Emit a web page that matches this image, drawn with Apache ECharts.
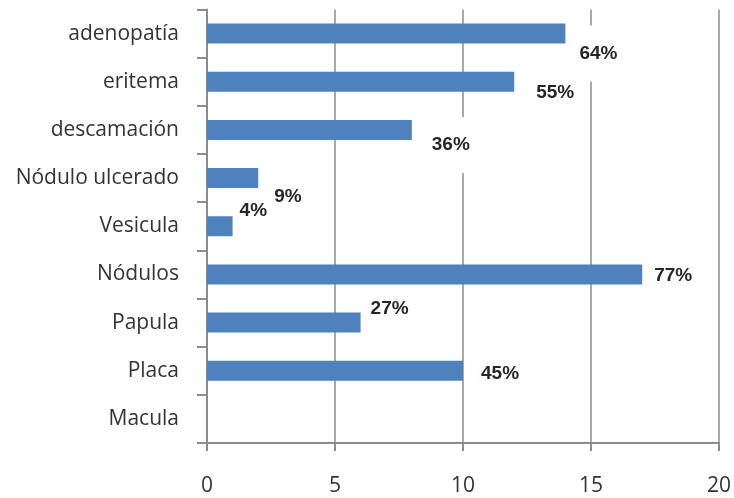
<!DOCTYPE html>
<html>
<head>
<meta charset="utf-8">
<script src="https://cdn.jsdelivr.net/npm/echarts@6/dist/echarts.min.js"></script>
<style>
  html, body { margin: 0; padding: 0; background: #fff; }
  #chart { width: 734px; height: 498px; }
</style>
</head>
<body>
<div id="chart"></div>
<script>
// Lesion types, listed bottom to top as they appear on the vertical axis
const categories = ['Macula', 'Placa', 'Papula', 'Nódulos', 'Vesicula', 'Nódulo ulcerado', 'descamación', 'eritema', 'adenopatía'];
// Number of cases per lesion type
const counts = [0, 10, 6, 17, 1, 2, 8, 12, 14];
// Share of patients shown next to each bar
const percentLabels = ['', '45%', '27%', '77%', '4%', '9%', '36%', '55%', '64%'];
const xTicks = [0, 5, 10, 15, 20];

// Hand-placed label nudges [dx, dy] from the bar end, and which labels carry a white box
const labelNudges = [[0, 0], [18, 3], [10, -14], [12, 1], [7, -15], [16, 8], [20, 4], [22, 11], [14, 9]];
const boxed = [false, false, false, false, false, true, true, false, true];

const chart = echarts.init(document.getElementById('chart'), null, { renderer: 'canvas' });

const seriesData = counts.map((v, i) => {
  const [dx, dy] = labelNudges[i];
  const label = {
    show: percentLabels[i] !== '',
    position: 'right',
    distance: 0,
    formatter: percentLabels[i],
    fontFamily: '"Liberation Sans", Arial, sans-serif',
    fontWeight: 'bold',
    fontSize: 19,
    lineHeight: 16,
    color: '#262626',
    offset: [dx, dy]
  };
  if (boxed[i]) {
    label.backgroundColor = '#fff';
    label.padding = [9, 26, 31, 0];
    label.offset = [dx, dy + 11];
  }
  return { value: v, label };
});

chart.setOption({
  animation: false,
  backgroundColor: '#fff',
  grid: { left: 207, right: 15, top: 9.5, bottom: 55, containLabel: false },
  xAxis: {
    type: 'value',
    min: xTicks[0],
    max: xTicks[xTicks.length - 1],
    interval: 5,
    axisLine: { show: true, lineStyle: { color: '#8c8c8c', width: 2 } },
    axisTick: { show: true, length: 8, lineStyle: { color: '#8c8c8c', width: 2 } },
    axisLabel: {
      margin: 33,
      fontFamily: '"Open Sans", sans-serif',
      fontSize: 21,
      color: '#333'
    },
    splitLine: { show: true, lineStyle: { color: '#a8a8a8', width: 2 } }
  },
  yAxis: {
    type: 'category',
    data: categories,
    axisLine: { show: true, lineStyle: { color: '#8c8c8c', width: 2 } },
    axisTick: { show: true, length: 10, lineStyle: { color: '#8c8c8c', width: 2 } },
    axisLabel: {
      margin: 28,
      fontFamily: '"Open Sans", sans-serif',
      fontSize: 21,
      color: '#333'
    },
    splitLine: { show: false }
  },
  series: [{
    type: 'bar',
    data: seriesData,
    barWidth: 20,
    itemStyle: { color: '#4f81bd' }
  }]
});
</script>
</body>
</html>
